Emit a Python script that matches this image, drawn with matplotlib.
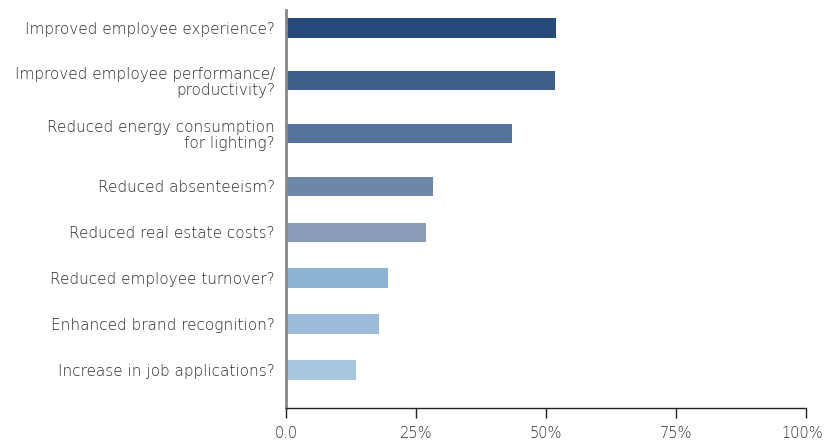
import matplotlib.pyplot as plt
import matplotlib.transforms as mtransforms
import numpy as np

categories = [
    "Improved employee experience?",
    "Improved employee performance/\nproductivity?",
    "Reduced energy consumption\nfor lighting?",
    "Reduced absenteeism?",
    "Reduced real estate costs?",
    "Reduced employee turnover?",
    "Enhanced brand recognition?",
    "Increase in job applications?",
]
values = [51.9, 51.7, 43.4, 28.3, 26.9, 19.6, 17.9, 13.5]
colors = ["#264a7c", "#3e5e8c", "#56729a", "#6e86a8", "#889cb7",
          "#8cb3d4", "#9cbcd9", "#a8c6df"]
tick_vals = [0, 25, 50, 75, 100]
tick_labels = ["0.0", "25%", "50%", "75%", "100%"]

plt.rcParams['font.family'] = ['DejaVu Sans']

# rows next to a two-line label get a little more room
lines = [c.count("\n") + 1 for c in categories]
gaps = [1.15 if max(lines[i], lines[i + 1]) > 1 else 1.0 for i in range(len(categories) - 1)]
ypos = np.concatenate([[0], np.cumsum(gaps)])

fig = plt.figure(figsize=(8.24, 4.41), dpi=100)
ax = fig.add_axes([0.3471, 0.0748, 0.6311, 0.9025])

ax.barh(ypos, values, height=0.42, color=colors)

ax.set_xlim(0, 100)
ax.set_ylim(ypos[-1] + 0.83, -0.39)
ax.set_xticks(tick_vals)
ax.set_xticklabels(tick_labels)
ax.set_yticks(ypos)
ax.set_yticklabels(categories, linespacing=1.1)

for s in ["top", "right"]:
    ax.spines[s].set_visible(False)
ax.spines["left"].set_color("#888888")
ax.spines["left"].set_linewidth(2)
ax.spines["bottom"].set_color("#222222")
ax.spines["bottom"].set_linewidth(1)

ax.tick_params(axis="y", length=0, pad=8, labelsize=11, labelcolor="#2a2a2a")
ax.tick_params(axis="x", length=7, width=1, color="#222222", pad=6,
               labelsize=10.5, labelcolor="#2a2a2a")
for t in ax.get_yticklabels() + ax.get_xticklabels():
    t.set_fontweight("light")

# nudge the last tick label a few pixels left so it stays inside the canvas
last = ax.get_xticklabels()[-1]
last.set_transform(last.get_transform()
                   + mtransforms.ScaledTranslation(-4 / 100, 0, fig.dpi_scale_trans))

plt.savefig("out.png", dpi=100)
plt.close()
